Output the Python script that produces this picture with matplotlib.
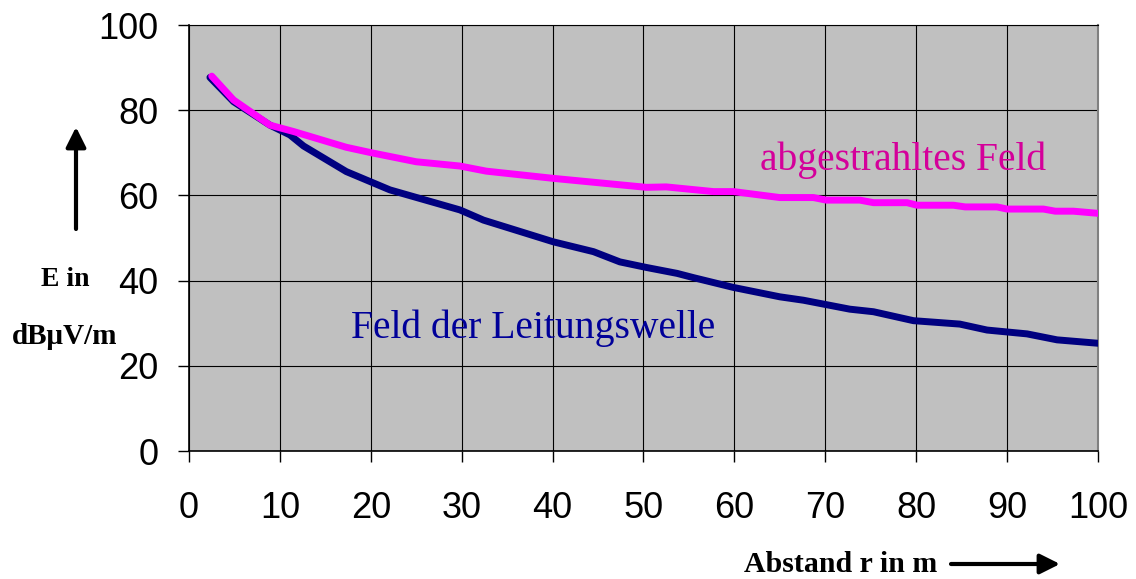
import matplotlib.pyplot as plt

# Abstand r in m / Feldstaerke in dBuV/m
r_leitung = [2.3, 4.9, 8.9, 11.1, 12.6, 17.3, 22.1, 29.8, 32.4, 40.1, 44.5, 47.4,
             50.3, 53.7, 55.5, 59.9, 65.0, 67.6, 72.7, 75.3, 79.7, 84.8, 87.8,
             92.2, 95.5, 100.0]
e_leitung = [87.7, 82.0, 76.5, 74.2, 71.6, 65.6, 61.3, 56.6, 54.2, 49.1, 46.8, 44.4,
             43.1, 41.7, 40.7, 38.4, 36.2, 35.4, 33.3, 32.7, 30.6, 29.8, 28.4,
             27.5, 26.1, 25.3]

r_abgestrahlt = [2.5, 4.9, 8.9, 11.5, 17.3, 20.1, 25.0, 29.8, 32.7, 40.1, 50.3,
                 52.5, 57.7, 59.9, 65.0, 68.7, 70.1, 73.8, 75.3, 79.0, 80.1, 84.1,
                 85.4, 88.9, 90.0, 94.0, 95.3, 97.3, 100.0]
e_abgestrahlt = [88.0, 82.4, 76.5, 75.0, 71.3, 70.0, 67.9, 66.9, 65.7, 64.0, 61.9,
                 62.0, 60.9, 60.9, 59.5, 59.5, 58.9, 58.9, 58.3, 58.3, 57.7, 57.7,
                 57.3, 57.3, 56.8, 56.8, 56.3, 56.3, 55.8]

xticks = list(range(0, 101, 10))
yticks = list(range(0, 101, 20))

fig = plt.figure(figsize=(11.36, 5.79), dpi=100)
ax = fig.add_axes([0.1664, 0.221, 0.8001, 0.7358])
ax.set_facecolor('#c0c0c0')

ax.plot(r_leitung, e_leitung, color='#000080', lw=5, solid_capstyle='round', zorder=3)
ax.plot(r_abgestrahlt, e_abgestrahlt, color='#ff00ff', lw=5, solid_capstyle='round', zorder=4)

ax.set_xlim(0, 100)
ax.set_ylim(0, 100)
ax.set_xticks(xticks)
ax.set_yticks(yticks)
ax.grid(True, color='black', lw=0.8, zorder=1)
ax.set_axisbelow(True)

for side in ['left', 'bottom']:
    ax.spines[side].set_color('black')
    ax.spines[side].set_linewidth(1.2)
ax.spines['top'].set_color('black')
ax.spines['top'].set_linewidth(0.8)
ax.spines['right'].set_color('#808080')
ax.spines['right'].set_linewidth(1.5)

ax.tick_params(axis='both', length=8, width=1, color='black',
               labelsize=26, labelfontfamily='Liberation Sans')
ax.tick_params(axis='x', pad=21)
ax.tick_params(axis='y', pad=14)

serif = 'Liberation Serif'
ax.text(78.6, 68.3, 'abgestrahltes Feld', color='#d4009a', fontsize=28.5,
        family=serif, ha='center', va='center')
ax.text(37.9, 28.9, 'Feld der Leitungswelle', color='#000099', fontsize=28.5,
        family=serif, ha='center', va='center')

fig.text(65 / 1136, 1 - 280 / 579, 'E in', fontsize=20, fontweight='bold',
         family=serif, ha='center', va='center')
fig.text(65 / 1136, 1 - 336 / 579, 'dBμV/m', fontsize=21, fontweight='bold',
         family=serif, ha='center', va='center')
fig.text(841 / 1136, 1 - 564 / 579, 'Abstand r in m', fontsize=21.5, fontweight='bold',
         family=serif, ha='center', va='center')

arrow = dict(arrowstyle='-|>,head_length=1.2,head_width=0.6', color='black', lw=3,
             shrinkA=0, shrinkB=0)
ax.annotate('', xy=(76 / 1136, 1 - 127 / 579), xytext=(76 / 1136, 1 - 229 / 579),
            xycoords='figure fraction', textcoords='figure fraction',
            arrowprops=arrow, annotation_clip=False)
ax.annotate('', xy=(1060 / 1136, 1 - 564 / 579), xytext=(951 / 1136, 1 - 564 / 579),
            xycoords='figure fraction', textcoords='figure fraction',
            arrowprops=arrow, annotation_clip=False)

fig.savefig('out.png', dpi=100)
